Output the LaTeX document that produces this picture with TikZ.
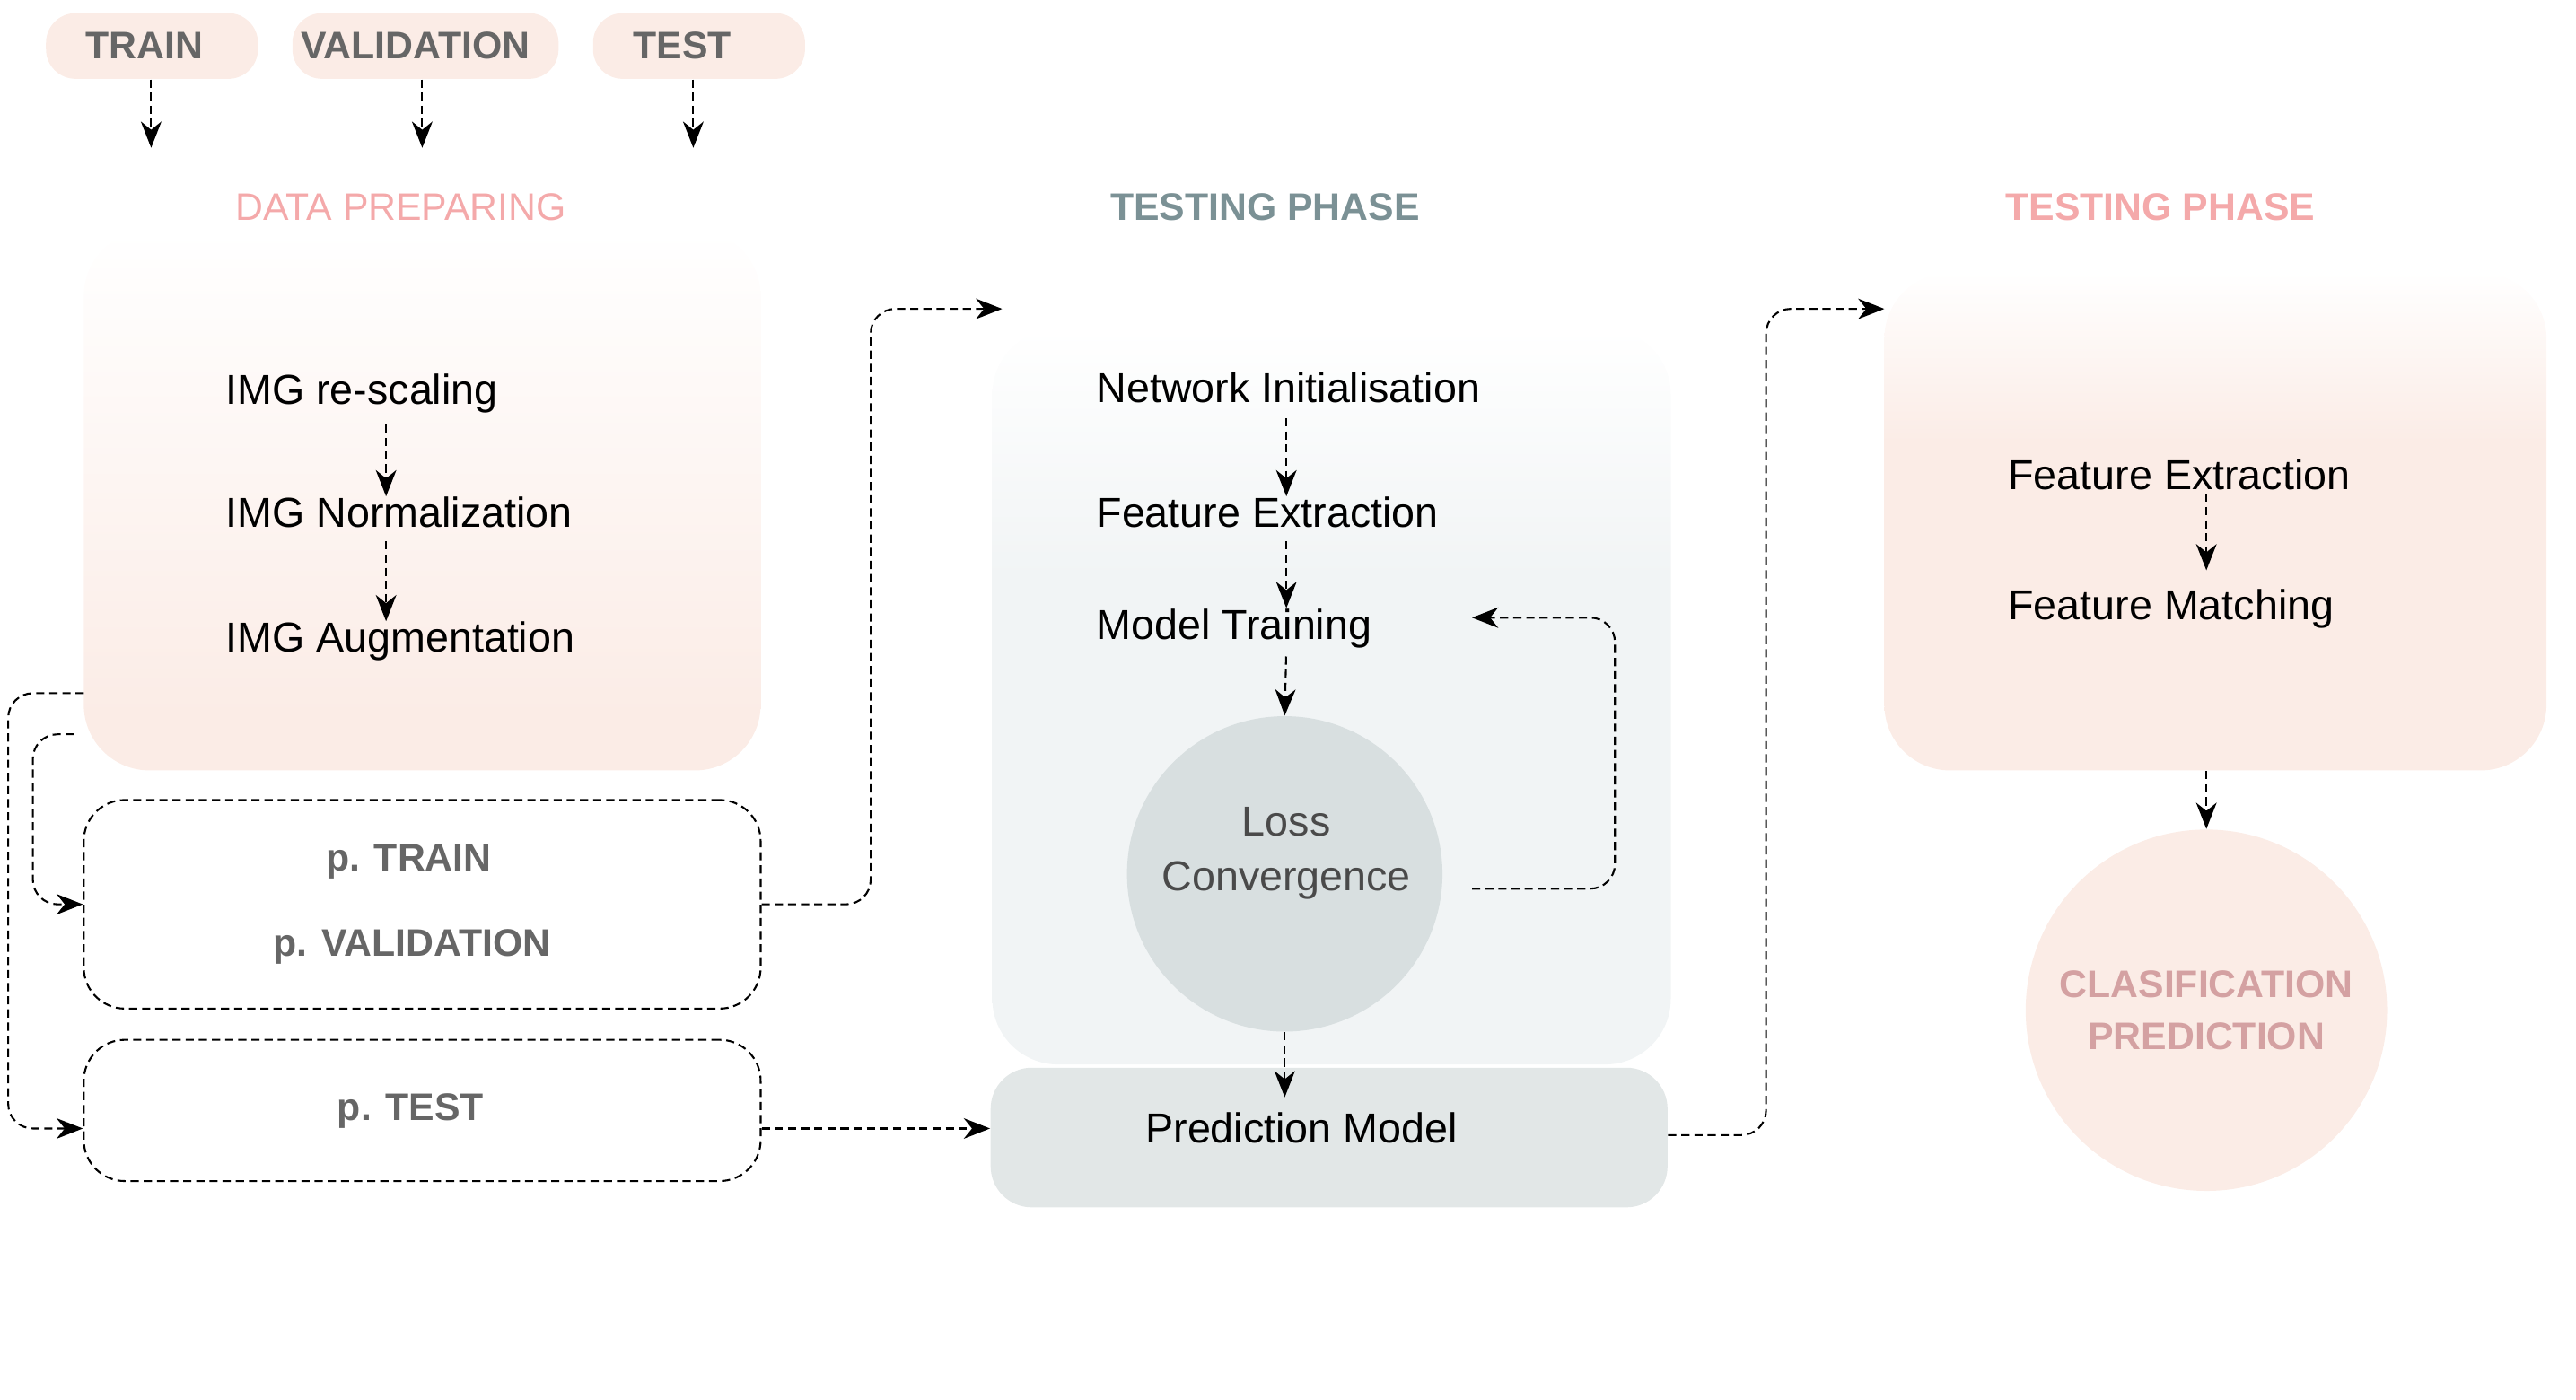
\documentclass[tikz,border=0pt]{standalone}
\usepackage{fontspec}
\setmainfont{Liberation Sans}
\usetikzlibrary{arrows.meta}

\definecolor{peach}{HTML}{FBECE6}
\definecolor{phasegray}{HTML}{F1F4F5}
\definecolor{lossgray}{HTML}{D8DFE0}
\definecolor{predgray}{HTML}{E2E7E7}
\definecolor{pinkt}{HTML}{F4A9AA}
\definecolor{tealt}{HTML}{7B9195}
\definecolor{clstext}{HTML}{D4A1A2}
\definecolor{labelgray}{HTML}{666666}
\definecolor{losstext}{HTML}{4A4A4A}

\pgfdeclareverticalshading{prepfade}{100bp}{color(0bp)=(peach); color(30bp)=(peach); color(75bp)=(white); color(100bp)=(white)}
\pgfdeclareverticalshading{grayfade}{100bp}{color(0bp)=(phasegray); color(58bp)=(phasegray); color(75bp)=(white); color(100bp)=(white)}
\pgfdeclareverticalshading{peachfade}{100bp}{color(0bp)=(peach); color(58bp)=(peach); color(75bp)=(white); color(100bp)=(white)}

\newcommand\txtbody{\fontsize{14.5}{17}\selectfont}
\newcommand\txthead{\fontsize{13.3}{16}\selectfont}

\tikzset{
  link/.style={-{Stealth[length=3.2mm,width=2.5mm,inset=1mm]}, line width=0.65pt, dash pattern=on 1mm off 0.6mm},
  datasetbox/.style={fill=peach, rounded corners=3.6mm, minimum height=8mm, inner sep=0pt},
  headtxt/.style={inner sep=0pt, font=\txthead},
  graytxt/.style={anchor=base west, inner sep=0pt, text=labelgray, font=\txthead\bfseries},
  steptxt/.style={anchor=base west, inner sep=0pt, font=\txtbody},
  splitbox/.style={draw, line width=0.65pt, dash pattern=on 1mm off 0.6mm, rounded corners=5mm, minimum width=82.4mm, inner sep=0pt},
  phasebox/.style={rounded corners=8mm, inner sep=0pt, shade},
}

\begin{document}
\begin{tikzpicture}[x=0.2mm, y=-0.2mm]
\useasboundingbox (0,0) rectangle (1568,852);

\node[datasetbox, minimum width=25.8mm] (train) at (92.5,28) {};
\node[datasetbox, minimum width=32.4mm] (valid) at (259,28) {};
\node[datasetbox, minimum width=25.8mm] (test) at (425.5,28) {};
\node[graytxt] (traintxt) at (52,36) {TRAIN};
\node[graytxt] (validtxt) at (183,36) {VALIDATION};
\node[graytxt] (testtxt) at (385,36) {TEST};
\coordinate (trainend) at (92,90);
\coordinate (validend) at (257,90);
\coordinate (testend) at (422,90);
\draw[link] (train.south -| trainend) -- (trainend);
\draw[link] (valid.south -| validend) -- (validend);
\draw[link] (test.south -| testend) -- (testend);

\node[phasebox, shading=prepfade, minimum width=82.4mm, minimum height=65.8mm] (prep) at (257,304.5) {};
\node[headtxt, text=pinkt] (preptitle) at (244,126) {DATA PREPARING};
\node[steptxt] (rescale) at (137,246) {IMG re-scaling};
\node[steptxt] (norm) at (137,321) {IMG Normalization};
\node[steptxt] (augm) at (137,397) {IMG Augmentation};
\coordinate (prepcol) at (235,0);
\draw[link, shorten <=1.4mm] (rescale.south -| prepcol) -- (norm.north -| prepcol);
\draw[link, shorten <=1.6mm] (norm.south -| prepcol) -- (augm.north -| prepcol);

\node[splitbox, minimum height=25.4mm] (ptv) at (257,550.5) {};
\node[graytxt] (ptrain) at (198,530) {p. TRAIN};
\node[graytxt] (pval) at (166,582) {p. VALIDATION};
\node[splitbox, minimum height=17.2mm] (ptest) at (257,676) {};
\node[graytxt] (ptesttxt) at (205,682) {p. TEST};

\node[phasebox, shading=grayfade, minimum width=82.6mm, minimum height=89.6mm] (learn) at (810.5,424) {};
\node[headtxt, text=tealt, font=\txthead\bfseries] (learntitle) at (770,126) {TESTING PHASE};
\node[steptxt] (init) at (667,245) {Network Initialisation};
\node[steptxt] (extract) at (667,321) {Feature Extraction};
\node[steptxt] (modeltrain) at (667,389) {Model Training};
\node[circle, fill=lossgray, minimum size=38.4mm, inner sep=0pt] (loss) at (782,532) {};
\node[align=center, text=losstext, font=\fontsize{14.5}{18.8}\selectfont] (losstxt) at (783,519.5) {Loss\\Convergence};
\coordinate (learncol) at (783,0);
\draw[link, shorten <=1.8mm] (init.south -| learncol) -- (extract.north -| learncol);
\draw[link, shorten <=1.6mm] (extract.south -| learncol) -- (modeltrain.north -| learncol);
\draw[link, shorten <=1mm] (modeltrain.south -| learncol) -- (loss.north);

\node[fill=predgray, rounded corners=5mm, minimum width=82.4mm, minimum height=17mm, inner sep=0pt] (pred) at (809,692.5) {};
\node[steptxt] (predtxt) at (697,696) {Prediction Model};
\coordinate (predin) at (782,668);
\draw[link] (loss.south) -- (predin);

\coordinate (loopout) at (896,541);
\coordinate (loopin) at (896,376);
\draw[link, rounded corners=3mm] (loopout) -| (983,450) |- (loopin);

\node[phasebox, shading=peachfade, minimum width=80.6mm, minimum height=60.6mm] (match) at (1348.5,317.5) {};
\node[headtxt, text=pinkt, font=\txthead\bfseries] (matchtitle) at (1315,126) {TESTING PHASE};
\node[steptxt] (extract2) at (1222,298) {Feature Extraction};
\node[steptxt] (matching) at (1222,377) {Feature Matching};
\coordinate (matchcol) at (1343,0);
\draw[link, shorten <=0.4mm, shorten >=2.2mm] (extract2.south -| matchcol) -- (matching.north -| matchcol);
\node[circle, fill=peach, minimum size=44mm, inner sep=0pt, align=center, text=clstext, font=\fontsize{13.3}{18.2}\selectfont\bfseries] (cls) at (1343,615) {CLASIFICATION\\PREDICTION};
\draw[link] (match.south -| cls.north) -- (cls.north);

\coordinate (prepout) at (51,422);
\coordinate (prepout2) at (45,447);
\draw[link, rounded corners=3mm] (prepout) -| (5,560) |- (ptest.west |- 0,687);
\draw[link, rounded corners=3mm] (prepout2) -| (20,500) |- (ptv.west);
\coordinate (learnin) at (610,188);
\draw[link, rounded corners=3mm] (ptv.east) -| (530,370) |- (learnin);
\draw[link] (ptest.east |- 0,687) -- (pred.west |- 0,687);
\coordinate (matchin) at (1147,188);
\draw[link, rounded corners=3mm] (pred.east |- 0,691) -| (1075,400) |- (matchin);
\end{tikzpicture}
\end{document}
